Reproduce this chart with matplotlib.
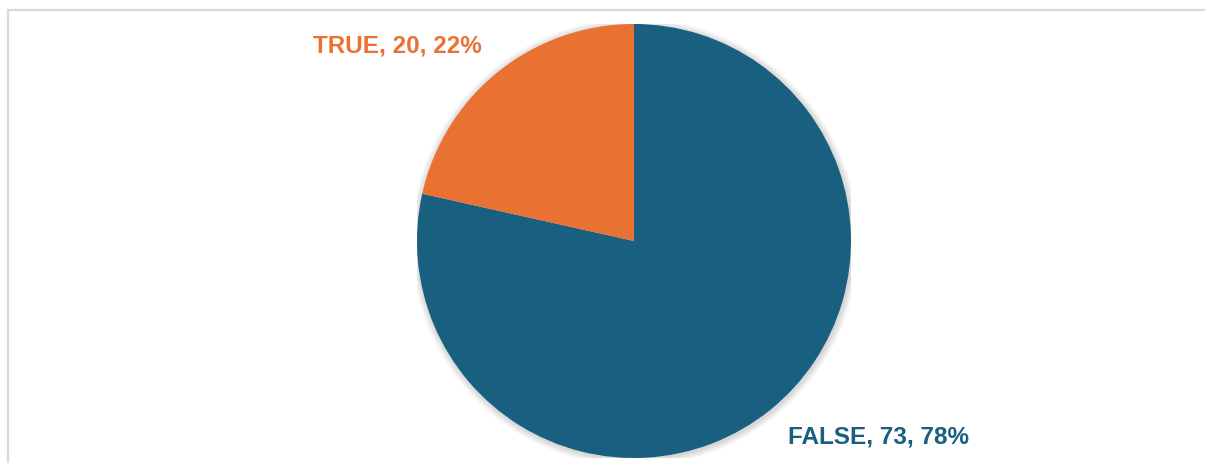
import matplotlib.pyplot as plt
from matplotlib.patches import Rectangle, Circle

labels = ["FALSE", "TRUE"]
counts = [73, 20]
colors = ["#185F80", "#E97132"]

W, H = 1205, 464
fig = plt.figure(figsize=(W / 100, H / 100), dpi=100)
fig.patch.set_facecolor("white")

# chart area border (top and left visible)
fig.patches.append(Rectangle((8 / W, -0.1), 1.2, (H - 11) / H + 0.1,
                             transform=fig.transFigure, fill=False,
                             edgecolor="#d9d9d9", linewidth=1.6))

# pie axes: centre (634, 242), radius 217 px
cx, cy, r = 634, 242, 217
ax = fig.add_axes([(cx - r) / W, (H - cy - r) / H, 2 * r / W, 2 * r / H])

# soft glow/shadow around the pie
for i in range(8):
    ax.add_patch(Circle((0.004, -0.006), 1.0 + 0.004 * (i + 1),
                        color="black", alpha=0.018, lw=0, zorder=0))

ax.pie(counts, colors=colors, startangle=90, counterclock=False,
       radius=1.0, wedgeprops=dict(linewidth=0, zorder=2))
ax.set_xlim(-1, 1)
ax.set_ylim(-1, 1)
ax.set_aspect("equal")
ax.axis("off")

total = sum(counts)
label_pos = [(878, 437), (397, 46)]
for lab, n, col, (px, py) in zip(labels, counts, colors, label_pos):
    pct = round(100 * n / total)
    fig.text(px / W, 1 - py / H, f"{lab}, {n}, {pct}%", color=col,
             fontsize=17.5, fontweight="bold", family="Liberation Sans",
             ha="center", va="center")

fig.savefig("out.png", dpi=100)
